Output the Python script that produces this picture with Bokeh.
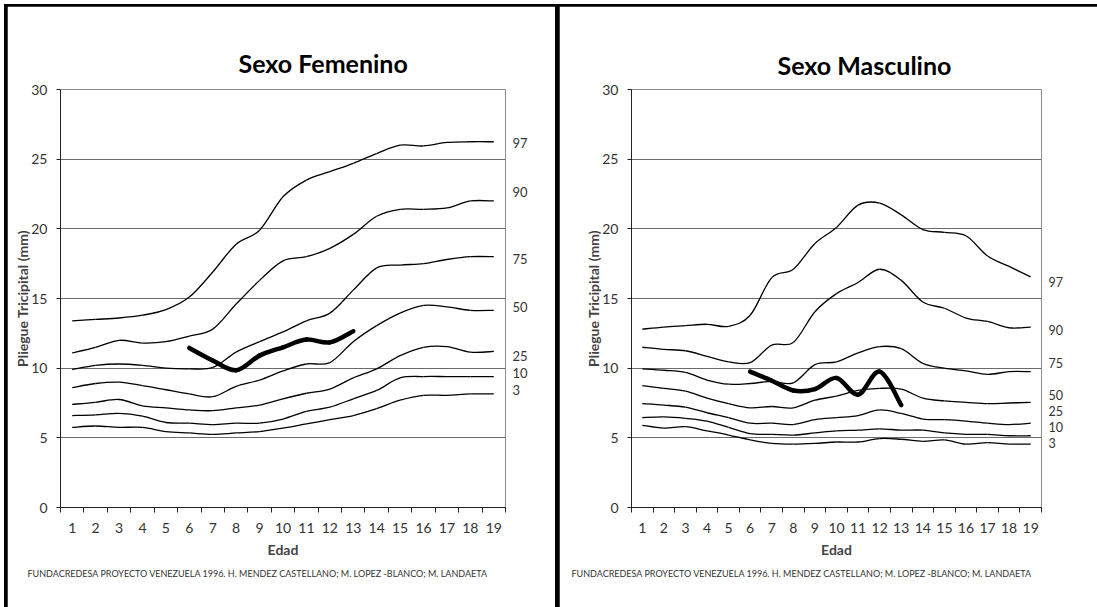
from bokeh.plotting import figure
from bokeh.layouts import row
from bokeh.models import FixedTicker, LinearAxis, Title, Range1d, ColumnDataSource
from bokeh.embed import file_html
from bokeh.resources import INLINE

# ---------------- data ----------------
ages = list(range(1, 20))
pct_names = ["97", "90", "75", "50", "25", "10", "3"]
age_ticks = [str(a) for a in ages]

fem_p97 = [13.4, 13.5, 13.6, 13.8, 14.2, 15.1, 16.9, 18.9, 19.9, 22.3, 23.5, 24.1, 24.7, 25.4, 26.0, 25.95, 26.2, 26.25, 26.25]
fem_p90 = [11.1, 11.5, 12.0, 11.8, 11.9, 12.3, 12.8, 14.6, 16.3, 17.7, 18.0, 18.6, 19.6, 20.9, 21.4, 21.4, 21.5, 22.0, 22.0]
fem_p75 = [9.9, 10.2, 10.3, 10.2, 10.0, 9.95, 10.05, 11.15, 11.9, 12.6, 13.4, 13.95, 15.6, 17.2, 17.4, 17.5, 17.8, 18.0, 18.0]
fem_p50 = [8.6, 8.9, 9.0, 8.75, 8.45, 8.15, 7.95, 8.7, 9.15, 9.8, 10.3, 10.4, 11.9, 13.05, 13.95, 14.5, 14.4, 14.15, 14.15]
fem_p25 = [7.4, 7.55, 7.75, 7.3, 7.15, 7.0, 6.95, 7.15, 7.35, 7.8, 8.2, 8.5, 9.3, 9.95, 10.9, 11.5, 11.55, 11.15, 11.2]
fem_p10 = [6.6, 6.65, 6.75, 6.55, 6.1, 6.05, 5.95, 6.05, 6.05, 6.35, 6.9, 7.2, 7.8, 8.4, 9.3, 9.4, 9.4, 9.4, 9.4]
fem_p3 = [5.75, 5.85, 5.75, 5.75, 5.45, 5.35, 5.25, 5.35, 5.45, 5.7, 6.0, 6.3, 6.6, 7.1, 7.7, 8.05, 8.05, 8.15, 8.15]
fem_patient_ages = [6, 7, 8, 9, 10, 11, 12, 13]
fem_patient = [11.45, 10.55, 9.85, 10.9, 11.5, 12.05, 11.85, 12.65]
fem_label_y = [26.15, 22.63, 17.87, 14.36, 10.84, 9.64, 8.45]

mas_p97 = [12.8, 12.95, 13.05, 13.15, 13.0, 13.8, 16.5, 17.1, 18.95, 20.1, 21.7, 21.85, 21.0, 19.95, 19.75, 19.5, 18.05, 17.3, 16.55]
mas_p90 = [11.5, 11.35, 11.25, 10.85, 10.45, 10.4, 11.65, 11.85, 14.05, 15.35, 16.15, 17.1, 16.3, 14.75, 14.3, 13.6, 13.35, 12.9, 12.95]
mas_p75 = [9.95, 9.85, 9.7, 9.15, 8.85, 8.9, 9.05, 8.95, 10.25, 10.45, 11.1, 11.55, 11.4, 10.35, 10.0, 9.8, 9.55, 9.75, 9.75]
mas_p50 = [8.75, 8.55, 8.35, 7.85, 7.45, 7.15, 7.25, 7.15, 7.7, 8.0, 8.4, 8.55, 8.5, 7.85, 7.65, 7.55, 7.45, 7.5, 7.55]
mas_p25 = [7.45, 7.35, 7.2, 6.8, 6.45, 6.05, 6.05, 5.95, 6.3, 6.45, 6.6, 7.0, 6.75, 6.35, 6.3, 6.2, 6.05, 5.95, 6.05]
mas_p10 = [6.45, 6.5, 6.4, 6.2, 5.75, 5.3, 5.25, 5.2, 5.35, 5.5, 5.55, 5.65, 5.55, 5.55, 5.35, 5.25, 5.25, 5.15, 5.15]
mas_p3 = [5.9, 5.7, 5.8, 5.5, 5.2, 4.85, 4.6, 4.55, 4.6, 4.7, 4.7, 4.95, 4.9, 4.75, 4.85, 4.55, 4.65, 4.55, 4.55]
mas_patient_ages = [6, 7, 8, 9, 10, 11, 12, 13]
mas_patient = [9.75, 9.1, 8.4, 8.5, 9.3, 8.1, 9.75, 7.35]
mas_label_y = [16.2, 12.75, 10.35, 8.08, 6.94, 5.77, 4.65]

y_ticks = [0, 5, 10, 15, 20, 25, 30]
grid_ticks = [5, 10, 15, 20, 25]
footer = "FUNDACREDESA PROYECTO VENEZUELA 1996.  H. MENDEZ CASTELLANO; M. LOPEZ -BLANCO; M. LANDAETA"
FONT = "Lato"


def smooth_segments(xs, ys):
    """Bezier segments (Excel-like smoothing) built from the data points."""
    n = len(xs)
    d = dict(x0=[], y0=[], x1=[], y1=[], cx0=[], cy0=[], cx1=[], cy1=[])
    for i in range(n - 1):
        xp, yp = (xs[i - 1], ys[i - 1]) if i > 0 else (xs[i], ys[i])
        xn, yn = (xs[i + 2], ys[i + 2]) if i + 2 < n else (xs[i + 1], ys[i + 1])
        d["x0"].append(xs[i]); d["y0"].append(ys[i])
        d["x1"].append(xs[i + 1]); d["y1"].append(ys[i + 1])
        d["cx0"].append(xs[i] + (xs[i + 1] - xp) / 6.0)
        d["cy0"].append(ys[i] + (ys[i + 1] - yp) / 6.0)
        d["cx1"].append(xs[i + 1] - (xn - xs[i]) / 6.0)
        d["cy1"].append(ys[i + 1] - (yn - ys[i]) / 6.0)
    return ColumnDataSource(d)


def make_panel(title, curves, pat_x, pat_y, label_y, fig_w, fig_h, bl, br, bt, bb,
               title_off, title_standoff, footer_off, lab_size, margin):
    p = figure(width=fig_w, height=fig_h, x_range=Range1d(0.5, 19.5), y_range=Range1d(0, 30),
               output_backend="svg", toolbar_location=None,
               min_border_left=bl, min_border_right=br,
               min_border_top=bt, min_border_bottom=bb,
               x_axis_label="Edad", y_axis_label="Pliegue Tricipital (mm)",
               margin=margin)
    p.background_fill_color = "white"
    p.border_fill_color = "white"
    p.outline_line_color = "#8c8c8c"
    p.outline_line_width = 1

    p.title.text = title
    p.title.align = "left"
    p.title.offset = title_off
    p.title.text_font = FONT
    p.title.text_font_size = "25px"
    p.title.text_font_style = "bold"
    p.title.text_color = "black"
    p.title.standoff = title_standoff

    xa = p.xaxis[0]
    xa.ticker = FixedTicker(ticks=ages, minor_ticks=[a - 0.5 for a in ages] + [19.5])
    xa.major_label_overrides = {a: s for a, s in zip(ages, age_ticks)}
    xa.major_tick_out = 0
    xa.major_tick_in = 0
    xa.minor_tick_out = 5
    xa.minor_tick_in = 0
    xa.minor_tick_line_color = "#222222"
    xa.axis_line_color = "#222222"
    xa.major_label_standoff = 10
    xa.major_label_text_font = FONT
    xa.major_label_text_font_size = "14px"
    xa.major_label_text_color = "#333333"
    xa.axis_label_text_font = FONT
    xa.axis_label_text_font_size = "14px"
    xa.axis_label_text_font_style = "bold"
    xa.axis_label_standoff = 5

    ya = p.yaxis[0]
    ya.ticker = FixedTicker(ticks=y_ticks)
    ya.major_tick_out = 4
    ya.major_tick_in = 0
    ya.minor_tick_line_color = None
    ya.major_tick_line_color = "#222222"
    ya.axis_line_color = "#222222"
    ya.major_label_standoff = 9
    ya.major_label_text_font = FONT
    ya.major_label_text_font_size = "14px"
    ya.major_label_text_color = "#333333"
    ya.axis_label_text_font = FONT
    ya.axis_label_text_font_size = "14px"
    ya.axis_label_text_font_style = "bold"
    ya.axis_label_standoff = -3

    p.xgrid.visible = False
    p.ygrid.ticker = FixedTicker(ticks=grid_ticks)
    p.ygrid.grid_line_color = "#6a6a6a"
    p.ygrid.grid_line_width = 1

    ra = LinearAxis(ticker=FixedTicker(ticks=label_y),
                    major_label_overrides={v: n for v, n in zip(label_y, pct_names)},
                    axis_line_color=None, major_tick_line_color=None, minor_tick_line_color=None,
                    major_tick_out=0, major_tick_in=0, major_label_standoff=7,
                    major_label_text_font=FONT, major_label_text_font_size=lab_size,
                    major_label_text_color="#333333")
    p.add_layout(ra, "right")

    for ys in curves:
        src = smooth_segments(ages, ys)
        p.bezier(x0="x0", y0="y0", x1="x1", y1="y1", cx0="cx0", cy0="cy0", cx1="cx1", cy1="cy1",
                 source=src, line_color="black", line_width=1.3)
    psrc = smooth_segments(pat_x, pat_y)
    p.bezier(x0="x0", y0="y0", x1="x1", y1="y1", cx0="cx0", cy0="cy0", cx1="cx1", cy1="cy1",
             source=psrc, line_color="black", line_width=4.5, line_cap="round")

    p.add_layout(Title(text=footer, align="left", offset=footer_off, text_font=FONT,
                       text_font_size="9px", text_font_style="normal", text_color="#333333",
                       standoff=10), "below")
    return p


# left figure occupies x 7..555, y 6..607 ; right figure x 559..1097, y 6..607
p_fem = make_panel("Sexo Femenino",
                   [fem_p97, fem_p90, fem_p75, fem_p50, fem_p25, fem_p10, fem_p3],
                   fem_patient_ages, fem_patient, fem_label_y,
                   548, 601, 53, 50, 83, 100, 178, 24, -33, "13px", (2, 4, 0, 3))
p_mas = make_panel("Sexo Masculino",
                   [mas_p97, mas_p90, mas_p75, mas_p50, mas_p25, mas_p10, mas_p3],
                   mas_patient_ages, mas_patient, mas_label_y,
                   538, 601, 72, 56, 75, 98, 146, 20, -60, "12.5px", (2, 0, 0, 0))

layout = row(p_fem, p_mas, margin=(4, 0, 0, 4), styles={"background-color": "black"})
open("out.html", "w").write(file_html(layout, INLINE))
